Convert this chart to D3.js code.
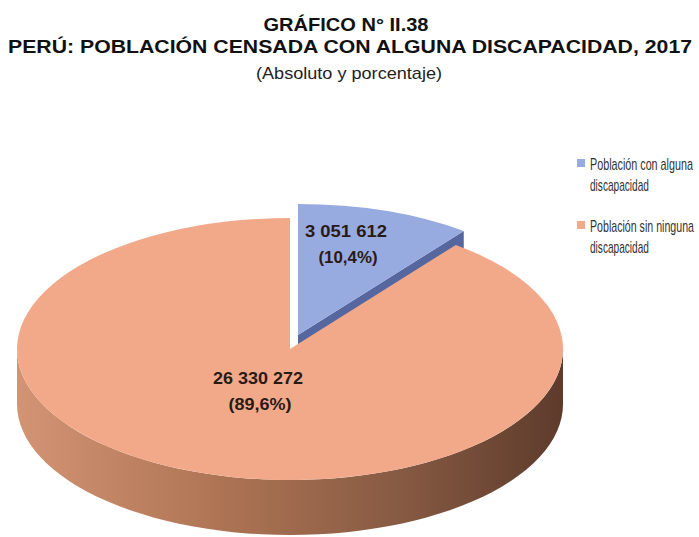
<!DOCTYPE html>
<html>
<head>
<meta charset="utf-8">
<script src="https://cdn.jsdelivr.net/npm/d3@7"></script>
<style>
  body { margin: 0; background: #fff; }
  text { font-family: "Liberation Sans Narrow", "Liberation Sans", Arial, sans-serif; }
</style>
</head>
<body>
<svg id="chart" width="699" height="537"></svg>
<script>
// data
var categories = ["Población con alguna discapacidad", "Población sin ninguna discapacidad"]
var values = [3051612, 26330272]
var valueLabels = ["3 051 612", "26 330 272"]
var percentLabels = ["(10,4%)", "(89,6%)"]
var colors = ["#97abe0", "#f1a98a"]

var titleLines = ["GRÁFICO N° II.38", "PERÚ: POBLACIÓN CENSADA CON ALGUNA DISCAPACIDAD, 2017"]
var subtitle = "(Absoluto y porcentaje)"

var svg = d3.select("#chart")

// squeeze a text to a given width (the narrow font is not installed)
function fit(sel, w) {
  return sel.attr("textLength", w).attr("lengthAdjust", "spacingAndGlyphs")
}

// same idea but with a horizontal scale, so the box really shrinks
function squeeze(parent, x, y, str, w, size) {
  var g = parent.append("g")
  var t = g.append("text").style("font-size", size + "px").attr("fill", "#333").text(str)
  var len = t.node().getComputedTextLength()
  var k = Math.min(1, w / len)
  g.attr("transform", "translate(" + x + "," + y + ") scale(" + k + ",1)")
  return t
}

// titles
fit(svg.append("text")
  .attr("x", 346).attr("y", 31)
  .attr("text-anchor", "middle")
  .style("font-size", "18px").style("font-weight", "bold").attr("fill", "#111")
  .text(titleLines[0]), 165)

fit(svg.append("text")
  .attr("x", 350).attr("y", 53)
  .attr("text-anchor", "middle")
  .style("font-size", "18px").style("font-weight", "bold").attr("fill", "#111")
  .text(titleLines[1]), 684)

fit(svg.append("text")
  .attr("x", 349).attr("y", 79)
  .attr("text-anchor", "middle")
  .style("font-size", "17px").attr("fill", "#222")
  .text(subtitle), 186)

// pie geometry
var cx = 290, cy = 349, rx = 273, ry = 131, depth = 55
var explode = [8, -14]

var pie = d3.pie().sort(null).value(function (d) { return d })
var arcs = pie(values)

// point on the ellipse rim for a d3 angle (0 = top, clockwise)
function rim(a, off) {
  return [cx + off[0] + rx * Math.sin(a), cy + off[1] - ry * Math.cos(a)]
}

var arc = d3.arc().innerRadius(0).outerRadius(rx)

var defs = svg.append("defs")
var grad = defs.append("linearGradient").attr("id", "side")
  .attr("x1", "0%").attr("x2", "100%").attr("y1", "0%").attr("y2", "0%")
grad.selectAll("stop")
  .data([["0%", "#d39474"], ["35%", "#b07655"], ["70%", "#875a43"], ["100%", "#5d3b2b"]])
  .enter().append("stop")
  .attr("offset", function (d) { return d[0] })
  .attr("stop-color", function (d) { return d[1] })

var small = arcs[0], big = arcs[1]

// blue slice: visible radial wall at its end angle
var p0 = [cx + explode[0], cy + explode[1]]
var p1 = rim(small.endAngle, explode)
svg.append("path")
  .attr("d", "M" + p0 + "L" + p1 + "L" + [p1[0], p1[1] + depth] + "L" + [p0[0], p0[1] + depth] + "Z")
  .attr("fill", "#56669f")

// blue top face
svg.append("path")
  .attr("d", arc(small))
  .attr("transform", "translate(" + p0 + ") scale(1," + (ry / rx) + ")")
  .attr("fill", colors[0])

// orange outer wall (front half only)
var a0 = Math.max(big.startAngle, Math.PI / 2)
var a1 = Math.min(big.endAngle, 3 * Math.PI / 2)
var steps = d3.range(0, 61).map(function (i) { return a0 + (a1 - a0) * i / 60 })
var topEdge = steps.map(function (a) { return rim(a, [0, 0]) })
var botEdge = topEdge.map(function (p) { return [p[0], p[1] + depth] }).reverse()
svg.append("path")
  .attr("d", d3.line()(topEdge.concat(botEdge)) + "Z")
  .attr("fill", "url(#side)")

// orange top face
svg.append("path")
  .attr("d", arc(big))
  .attr("transform", "translate(" + cx + "," + cy + ") scale(1," + (ry / rx) + ")")
  .attr("fill", colors[1])

// slice labels
var labelPos = [[346, 237], [258, 384]]
var labelW = [[82, 59], [90, 63]]
arcs.forEach(function (d, i) {
  var g = svg.append("g").style("font-size", "17px").style("font-weight", "bold")
  fit(g.append("text").attr("text-anchor", "middle").attr("fill", "#2a1a14")
    .attr("x", labelPos[i][0]).attr("y", labelPos[i][1])
    .text(valueLabels[i]), labelW[i][0])
  fit(g.append("text").attr("text-anchor", "middle").attr("fill", "#2a1a14")
    .attr("x", labelPos[i][0] + 2).attr("y", labelPos[i][1] + 26)
    .text(percentLabels[i]), labelW[i][1])
})

// legend
var legend = svg.append("g").attr("transform", "translate(577,0)")
var legendY = [170, 232]
var legendW = [[103, 59], [104, 59]]
categories.forEach(function (c, i) {
  var words = c.split(" ")
  legend.append("rect")
    .attr("x", 0).attr("y", legendY[i] - 11)
    .attr("width", 8).attr("height", 8)
    .attr("fill", colors[i])
  squeeze(legend, 13, legendY[i], words.slice(0, 3).join(" "), legendW[i][0], 16)
  squeeze(legend, 13, legendY[i] + 21, words.slice(3).join(" "), legendW[i][1], 16)
})
</script>
</body>
</html>
